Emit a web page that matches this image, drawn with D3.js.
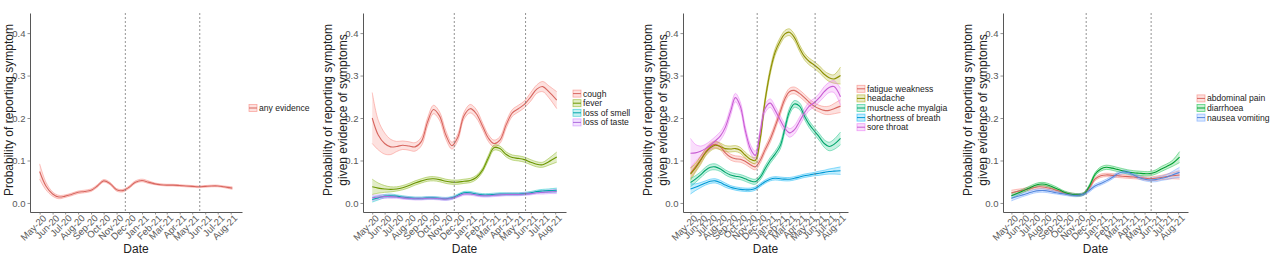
<!DOCTYPE html>
<html>
<head>
<meta charset="utf-8">
<script src="https://cdn.jsdelivr.net/npm/d3@7"></script>
<style>
  body { margin: 0; background: #fff; }
  svg { font-family: "Liberation Sans", Arial, sans-serif; }
</style>
</head>
<body>
<svg id="chart" width="1280" height="258"></svg>
<script>
// half-monthly time points of the smoothed estimates
const dates = ["2020-05-01","2020-05-16","2020-06-01","2020-06-16","2020-07-01","2020-07-16",
  "2020-08-01","2020-08-16","2020-09-01","2020-09-16","2020-10-01","2020-10-16","2020-11-01",
  "2020-11-16","2020-12-01","2020-12-16","2021-01-01","2021-01-16","2021-02-01","2021-02-15",
  "2021-03-01","2021-03-16","2021-04-01","2021-04-16","2021-05-01","2021-05-16","2021-06-01",
  "2021-06-16","2021-07-01","2021-07-16","2021-08-05"];

const monthTicks = ["2020-05-01","2020-06-01","2020-07-01","2020-08-01","2020-09-01","2020-10-01",
  "2020-11-01","2020-12-01","2021-01-01","2021-02-01","2021-03-01","2021-04-01","2021-05-01",
  "2021-06-01","2021-07-01","2021-08-01"];
const monthLabels = ["May-20","Jun-20","Jul-20","Aug-20","Sep-20","Oct-20","Nov-20","Dec-20",
  "Jan-21","Feb-21","Mar-21","Apr-21","May-21","Jun-21","Jul-21","Aug-21"];
const cutDates = ["2020-11-22", "2021-05-19"];
const yTicks = [0, 0.1, 0.2, 0.3, 0.4];

// panel 1
const anyEvidence   = [0.074,0.040,0.021,0.014,0.016,0.020,0.025,0.027,0.030,0.040,0.052,0.046,0.031,0.029,0.037,0.049,0.053,0.049,0.045,0.043,0.042,0.042,0.041,0.040,0.039,0.038,0.039,0.040,0.040,0.038,0.035];
const anyEvidenceCI = [0.018,0.009,0.005,0.004,0.003,0.003,0.003,0.003,0.003,0.003,0.003,0.003,0.003,0.003,0.003,0.003,0.003,0.003,0.002,0.002,0.002,0.002,0.002,0.002,0.002,0.002,0.002,0.002,0.002,0.002,0.003];

// panel 2
const cough     = [0.200,0.160,0.140,0.132,0.133,0.136,0.134,0.132,0.145,0.190,0.220,0.205,0.160,0.135,0.155,0.205,0.222,0.210,0.180,0.153,0.140,0.148,0.185,0.212,0.222,0.232,0.250,0.268,0.274,0.262,0.242];
const coughCI   = [0.060,0.035,0.025,0.018,0.012,0.010,0.010,0.010,0.010,0.010,0.010,0.010,0.010,0.008,0.008,0.008,0.010,0.010,0.008,0.008,0.008,0.008,0.008,0.008,0.008,0.008,0.010,0.010,0.012,0.014,0.020];
const fever     = [0.038,0.035,0.033,0.032,0.033,0.036,0.041,0.047,0.052,0.056,0.057,0.055,0.051,0.049,0.049,0.051,0.053,0.060,0.078,0.106,0.130,0.128,0.114,0.107,0.105,0.102,0.096,0.091,0.090,0.097,0.108];
const feverCI   = [0.018,0.012,0.008,0.006,0.005,0.005,0.005,0.005,0.005,0.005,0.005,0.005,0.005,0.005,0.005,0.005,0.005,0.005,0.005,0.006,0.006,0.006,0.006,0.006,0.006,0.006,0.006,0.006,0.006,0.008,0.012];
const lossSmell = [0.008,0.012,0.016,0.017,0.016,0.014,0.012,0.011,0.011,0.012,0.012,0.011,0.010,0.012,0.018,0.024,0.024,0.021,0.019,0.019,0.020,0.021,0.021,0.021,0.021,0.022,0.024,0.027,0.028,0.029,0.030];
const lossSmellCI = [0.006,0.005,0.004,0.004,0.003,0.003,0.003,0.003,0.003,0.003,0.003,0.003,0.003,0.003,0.003,0.003,0.003,0.003,0.003,0.003,0.003,0.003,0.003,0.003,0.003,0.003,0.003,0.003,0.004,0.004,0.005];
const lossTaste = [0.012,0.014,0.015,0.015,0.014,0.012,0.011,0.010,0.010,0.011,0.011,0.010,0.009,0.011,0.016,0.021,0.021,0.019,0.017,0.017,0.018,0.019,0.020,0.020,0.020,0.021,0.022,0.024,0.025,0.026,0.027];
const lossTasteCI = [0.006,0.005,0.004,0.004,0.003,0.003,0.003,0.003,0.003,0.003,0.003,0.003,0.003,0.003,0.003,0.003,0.003,0.003,0.003,0.003,0.003,0.003,0.003,0.003,0.003,0.003,0.003,0.003,0.004,0.004,0.005];

// panel 3
const fatigue   = [0.070,0.085,0.102,0.120,0.133,0.138,0.132,0.118,0.108,0.104,0.103,0.098,0.090,0.085,0.100,0.125,0.150,0.180,0.215,0.245,0.262,0.265,0.258,0.248,0.237,0.228,0.222,0.218,0.218,0.222,0.228];
const fatigueCI = [0.012,0.010,0.008,0.008,0.008,0.008,0.007,0.007,0.007,0.007,0.007,0.007,0.007,0.007,0.007,0.007,0.008,0.008,0.008,0.008,0.008,0.008,0.008,0.008,0.008,0.008,0.008,0.009,0.010,0.012,0.015];
const headache  = [0.068,0.082,0.100,0.118,0.130,0.136,0.133,0.128,0.127,0.128,0.124,0.113,0.103,0.100,0.150,0.240,0.310,0.355,0.382,0.398,0.402,0.390,0.365,0.345,0.333,0.325,0.315,0.303,0.295,0.292,0.300];
const headacheCI = [0.015,0.010,0.010,0.008,0.008,0.008,0.008,0.007,0.007,0.007,0.007,0.007,0.007,0.007,0.008,0.008,0.008,0.008,0.008,0.008,0.008,0.008,0.008,0.008,0.008,0.008,0.008,0.008,0.009,0.010,0.020];
const muscleAche = [0.048,0.056,0.066,0.077,0.084,0.085,0.080,0.072,0.066,0.063,0.061,0.057,0.052,0.050,0.060,0.080,0.100,0.115,0.135,0.175,0.215,0.233,0.228,0.205,0.185,0.170,0.155,0.140,0.133,0.138,0.152];
const muscleAcheCI = [0.010,0.008,0.007,0.007,0.007,0.007,0.006,0.006,0.006,0.006,0.006,0.006,0.006,0.006,0.006,0.007,0.007,0.007,0.008,0.008,0.008,0.008,0.008,0.008,0.008,0.008,0.008,0.009,0.010,0.012,0.015];
const breath    = [0.033,0.037,0.042,0.047,0.051,0.052,0.048,0.042,0.037,0.034,0.032,0.031,0.031,0.034,0.042,0.050,0.056,0.058,0.057,0.056,0.056,0.058,0.061,0.064,0.066,0.068,0.070,0.072,0.074,0.075,0.076];
const breathCI  = [0.012,0.008,0.006,0.005,0.005,0.005,0.005,0.005,0.004,0.004,0.004,0.004,0.004,0.004,0.004,0.004,0.004,0.004,0.004,0.004,0.004,0.004,0.004,0.004,0.004,0.004,0.005,0.005,0.006,0.007,0.009];
const soreThroat = [0.117,0.118,0.122,0.128,0.136,0.146,0.158,0.178,0.215,0.248,0.228,0.172,0.128,0.112,0.165,0.222,0.235,0.218,0.195,0.176,0.165,0.172,0.192,0.212,0.228,0.236,0.248,0.262,0.272,0.274,0.250];
const soreThroatCI = [0.035,0.020,0.012,0.010,0.010,0.010,0.010,0.010,0.010,0.010,0.010,0.010,0.010,0.010,0.010,0.010,0.010,0.010,0.010,0.010,0.010,0.010,0.010,0.010,0.010,0.010,0.010,0.012,0.012,0.014,0.020];

// panel 4
const abdominal = [0.024,0.027,0.030,0.033,0.036,0.038,0.037,0.034,0.030,0.026,0.022,0.020,0.019,0.022,0.036,0.056,0.064,0.066,0.065,0.064,0.063,0.062,0.061,0.060,0.058,0.057,0.058,0.060,0.062,0.064,0.066];
const abdominalCI = [0.006,0.005,0.004,0.004,0.004,0.004,0.004,0.004,0.003,0.003,0.003,0.003,0.003,0.003,0.004,0.004,0.004,0.004,0.004,0.004,0.004,0.004,0.004,0.004,0.004,0.004,0.005,0.005,0.006,0.007,0.010];
const diarrhoea = [0.017,0.022,0.028,0.034,0.040,0.044,0.044,0.040,0.034,0.028,0.023,0.020,0.019,0.022,0.040,0.067,0.080,0.084,0.082,0.079,0.076,0.073,0.071,0.070,0.069,0.069,0.073,0.080,0.086,0.093,0.108];
const diarrhoeaCI = [0.006,0.005,0.004,0.004,0.004,0.004,0.004,0.004,0.004,0.003,0.003,0.003,0.003,0.003,0.004,0.004,0.005,0.005,0.005,0.005,0.005,0.005,0.005,0.005,0.005,0.005,0.005,0.006,0.006,0.007,0.013];
const nausea    = [0.011,0.015,0.019,0.023,0.027,0.029,0.029,0.027,0.024,0.022,0.020,0.018,0.018,0.021,0.030,0.040,0.046,0.052,0.060,0.068,0.073,0.072,0.066,0.060,0.056,0.054,0.055,0.058,0.061,0.066,0.072];
const nauseaCI  = [0.006,0.005,0.004,0.004,0.004,0.004,0.004,0.004,0.003,0.003,0.003,0.003,0.003,0.003,0.004,0.004,0.004,0.004,0.004,0.004,0.004,0.004,0.004,0.004,0.004,0.004,0.005,0.005,0.006,0.008,0.012];

const panels = [
  { left: 30, right: 242, legendX: 249, titleX: [12.5],
    series: [{ name: "any evidence", mean: anyEvidence, ci: anyEvidenceCI }],
    colors: ["#F8766D"] },
  { left: 363, right: 566, legendX: 573, titleX: [332, 347],
    series: [
      { name: "cough", mean: cough, ci: coughCI },
      { name: "fever", mean: fever, ci: feverCI },
      { name: "loss of smell", mean: lossSmell, ci: lossSmellCI },
      { name: "loss of taste", mean: lossTaste, ci: lossTasteCI }],
    colors: ["#F8766D", "#7CAE00", "#00BFC4", "#C77CFF"] },
  { left: 683, right: 848, legendX: 857, titleX: [652, 667],
    series: [
      { name: "fatigue weakness", mean: fatigue, ci: fatigueCI },
      { name: "headache", mean: headache, ci: headacheCI },
      { name: "muscle ache myalgia", mean: muscleAche, ci: muscleAcheCI },
      { name: "shortness of breath", mean: breath, ci: breathCI },
      { name: "sore throat", mean: soreThroat, ci: soreThroatCI }],
    colors: ["#F8766D", "#A3A500", "#00BF7D", "#00B0F6", "#E76BF3"] },
  { left: 1003, right: 1188, legendX: 1197, titleX: [972, 987],
    series: [
      { name: "abdominal pain", mean: abdominal, ci: abdominalCI },
      { name: "diarrhoea", mean: diarrhoea, ci: diarrhoeaCI },
      { name: "nausea vomiting", mean: nausea, ci: nauseaCI }],
    colors: ["#F8766D", "#00BA38", "#619CFF"] }
];

const titleLines = ["Probability of reporting symptom", "given evidence of symptoms"];
const plotTop = 13, plotBottom = 212;
const parse = d3.timeParse("%Y-%m-%d");
const times = dates.map(parse);

const svg = d3.select("#chart");

const y = d3.scaleLinear().domain([-0.0213, 0.4473]).range([plotBottom, plotTop]);

const t0 = times[0], t1 = times[times.length - 1];
const pad = (t1 - t0) * 0.05;

panels.forEach((p, pi) => {
  const g = svg.append("g");
  const x = d3.scaleTime()
    .domain([new Date(+t0 - pad), new Date(+t1 + pad)])
    .range([p.left, p.right]);

  const area = d3.area()
    .x((d, i) => x(times[i]))
    .y0(d => y(d[0] - d[1]))
    .y1(d => y(d[0] + d[1]))
    .curve(d3.curveCatmullRom.alpha(0.5));
  const edge = sign => d3.line()
    .x((d, i) => x(times[i]))
    .y(d => y(d[0] + sign * d[1]))
    .curve(d3.curveCatmullRom.alpha(0.5));
  const mid = d3.line()
    .x((d, i) => x(times[i]))
    .y(d => y(d[0]))
    .curve(d3.curveCatmullRom.alpha(0.5));

  p.series.forEach((s, si) => {
    const c = p.colors[si];
    const pts = s.mean.map((m, i) => [m, s.ci[i]]);
    g.append("path").attr("d", area(pts))
      .attr("fill", c).attr("fill-opacity", 0.22);
    [1, -1].forEach(sg => {
      g.append("path").attr("d", edge(sg)(pts))
        .attr("fill", "none").attr("stroke", c)
        .attr("stroke-opacity", 0.55).attr("stroke-width", 0.8);
    });
  });
  p.series.forEach((s, si) => {
    const c = p.colors[si];
    const pts = s.mean.map((m, i) => [m, s.ci[i]]);
    g.append("path").attr("d", mid(pts))
      .attr("fill", "none").attr("stroke", d3.color(c).darker(0.4))
      .attr("stroke-width", 1.1);
  });

  // vertical reference lines
  cutDates.forEach(cd => {
    const cx = x(parse(cd));
    g.append("line")
      .attr("x1", cx).attr("x2", cx).attr("y1", plotTop).attr("y2", plotBottom)
      .attr("stroke", "#777").attr("stroke-width", 0.8)
      .attr("stroke-dasharray", "2,2");
  });

  // axes
  const yAxis = g.append("g")
    .attr("transform", `translate(${p.left},0)`)
    .call(d3.axisLeft(y).tickValues(yTicks).tickFormat(d3.format(".1f"))
      .tickSize(2.5).tickSizeOuter(0).tickPadding(2));
  const xAxis = g.append("g")
    .attr("transform", `translate(0,${plotBottom})`)
    .call(d3.axisBottom(x).tickValues(monthTicks.map(parse))
      .tickFormat((d, i) => monthLabels[i])
      .tickSize(2.5).tickSizeOuter(0).tickPadding(2));

  [yAxis, xAxis].forEach(a => {
    a.select(".domain").attr("stroke", "#444").attr("stroke-width", 0.9);
    a.selectAll(".tick line").attr("stroke", "#666").attr("stroke-width", 0.7);
    a.selectAll(".tick text").attr("fill", "#595959").attr("font-size", 9.5)
      .attr("font-family", "Liberation Sans, Arial, sans-serif");
  });
  xAxis.selectAll(".tick text")
    .attr("text-anchor", "end")
    .attr("dy", "0.71em")
    .attr("y", 3)
    .attr("transform", "rotate(-45)");

  // axis titles
  g.append("text")
    .attr("x", (p.left + p.right) / 2).attr("y", 253)
    .attr("text-anchor", "middle").attr("font-size", 12).attr("fill", "#222")
    .text("Date");
  const lines = pi === 0 ? [titleLines[0]] : titleLines;
  lines.forEach((ln, li) => {
    g.append("text")
      .attr("transform", `translate(${p.titleX[li]},110) rotate(-90)`)
      .attr("text-anchor", "middle").attr("font-size", 12).attr("fill", "#222")
      .text(ln);
  });

  // legend
  const n = p.series.length;
  const rowH = 9.6;
  p.series.forEach((s, si) => {
    const c = p.colors[si];
    const ly = 108 + (si - (n - 1) / 2) * rowH;
    g.append("rect")
      .attr("x", p.legendX).attr("y", ly - 3.5)
      .attr("width", 8).attr("height", 7)
      .attr("fill", c).attr("fill-opacity", 0.22)
      .attr("stroke", c).attr("stroke-opacity", 0.6).attr("stroke-width", 0.8);
    g.append("line")
      .attr("x1", p.legendX).attr("x2", p.legendX + 8)
      .attr("y1", ly).attr("y2", ly)
      .attr("stroke", d3.color(c).darker(0.4)).attr("stroke-width", 1);
    g.append("text")
      .attr("x", p.legendX + 10).attr("y", ly)
      .attr("dy", "0.35em").attr("font-size", 8.6).attr("fill", "#222")
      .text(s.name);
  });
});
</script>
</body>
</html>
